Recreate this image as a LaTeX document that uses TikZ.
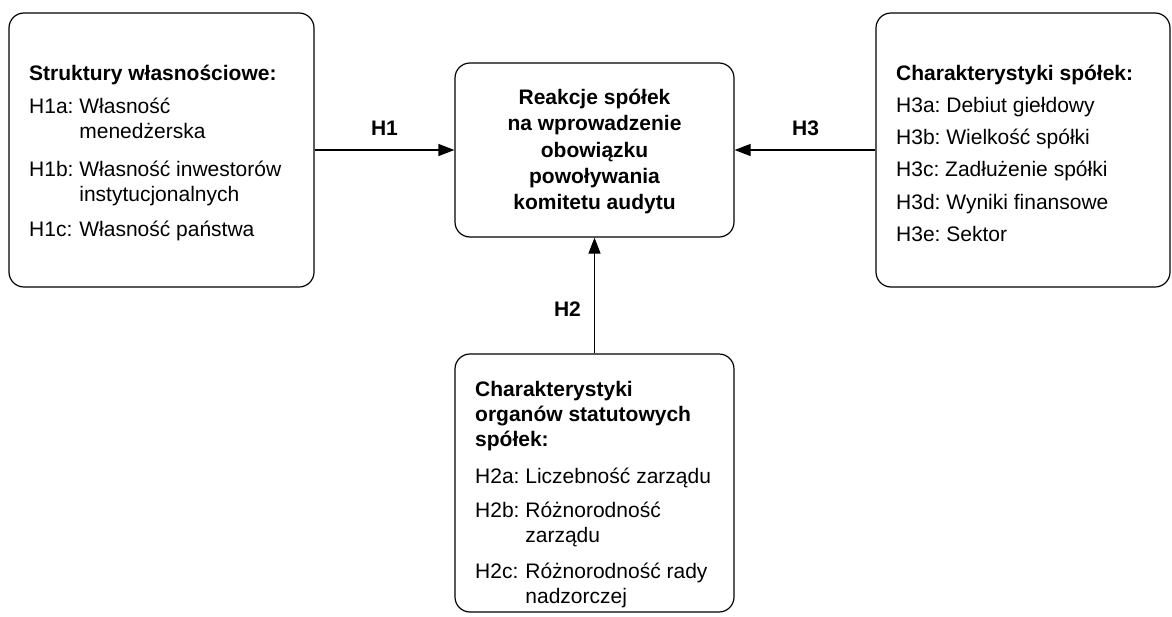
\documentclass[tikz,border=0pt]{standalone}
\usepackage{fontspec}
\setmainfont{Liberation Sans}
\usetikzlibrary{arrows.meta}
\frenchspacing
\tikzset{
  box/.style={draw=black, line width=1.2pt, rounded corners=15pt, rectangle, inner sep=0pt},
  txt/.style={font=\fontsize{21}{25}\selectfont\frenchspacing, inner sep=0pt, anchor=base west, text=black},
  ctxt/.style={font=\fontsize{21}{26.4}\selectfont\bfseries, inner sep=0pt, anchor=base, text=black},
  lbl/.style={font=\fontsize{21}{25}\selectfont\bfseries, inner sep=0pt, anchor=base, text=black},
  conn/.style={line width=1.2pt, -{Triangle[length=16pt,width=12pt]}}
}
\begin{document}
\begin{tikzpicture}[x=1pt,y=-1pt]
\useasboundingbox (0,0) rectangle (1172,616);

% boxes
\node[box, minimum width=305pt, minimum height=274pt] (left) at (161.5,150) {};
\node[box, minimum width=279pt, minimum height=174pt] (center) at (594.5,150) {};
\node[box, minimum width=294pt, minimum height=274pt] (right) at (1023,150) {};
\node[box, minimum width=279pt, minimum height=258pt] (bottom) at (594.5,483) {};

% texts
\node[txt] (lefttext) at (29,80) {\begin{tabular}[t]{@{}l@{\space}l@{}}
\multicolumn{2}{@{}l@{}}{\bfseries Struktury własnościowe:}\\[8.3pt]
H1a: & Własność\\
 & menedżerska\\[13pt]
H1b: & Własność inwestorów\\
 & instytucjonalnych\\[10.4pt]
H1c: & Własność państwa
\end{tabular}};

\node[ctxt] (centertext) at (594.5,104.3) {\begin{tabular}[t]{@{}c@{}}
Reakcje spółek\\
na wprowadzenie\\
obowiązku\\
powoływania\\
komitetu audytu
\end{tabular}};

\node[txt] (righttext) at (896,80) {\begin{tabular}[t]{@{}l@{}}
{\bfseries Charakterystyki spółek:}\\[7.3pt]
H3a: Debiut giełdowy\\[7.3pt]
H3b: Wielkość spółki\\[7.3pt]
H3c: Zadłużenie spółki\\[7.3pt]
H3d: Wyniki finansowe\\[7.3pt]
H3e: Sektor
\end{tabular}};

\node[txt] (bottomtext) at (475,396.7) {\begin{tabular}[t]{@{}l@{\space}l@{}}
\multicolumn{2}{@{}l@{}}{\bfseries Charakterystyki}\\
\multicolumn{2}{@{}l@{}}{\bfseries organów statutowych}\\
\multicolumn{2}{@{}l@{}}{\bfseries spółek:}\\[12pt]
H2a: & Liczebność zarządu\\[9pt]
H2b: & Różnorodność\\
 & zarządu\\[10.5pt]
H2c: & Różnorodność rady\\
 & nadzorczej
\end{tabular}};

% connectors
\draw[conn] (left.east) -- (center.west);
\draw[conn] (right.west) -- (center.east);
\draw[conn] (bottom.north) -- (center.south);

% labels
\node[lbl] (h1) at (384.5,135) {H1};
\node[lbl] (h3) at (805.5,135) {H3};
\node[lbl] (h2) at (567.5,316.7) {H2};
\end{tikzpicture}
\end{document}
